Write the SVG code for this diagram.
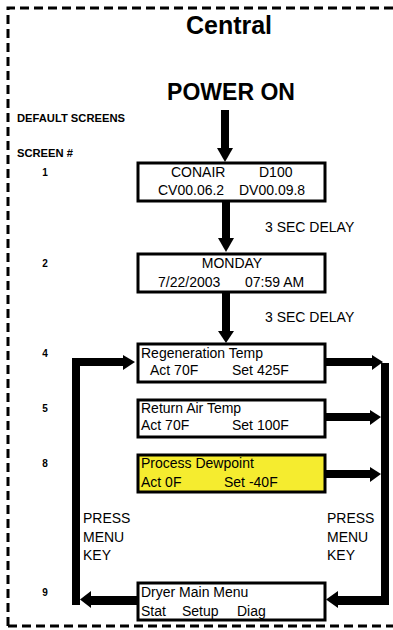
<svg xmlns="http://www.w3.org/2000/svg" width="393" height="630" viewBox="0 0 393 630">
<style>
text{font-family:"Liberation Sans",Arial,sans-serif;fill:#000}
.t{font-size:14px}
.b{font-weight:bold}
.n{font-size:10px;font-weight:bold}
.box{fill:#fff;stroke:#000;stroke-width:3}
.yel{fill:#F5EC2F}
.arr{fill:#000;stroke:none}
.frame{fill:none;stroke:#000;stroke-width:3;stroke-dasharray:9 5}
</style>
<path class="frame" d="M8,626 V8 H400 M8,626 H400"/>
<text x="229" y="34" class="b" font-size="25" text-anchor="middle">Central</text>
<text x="231" y="100" class="b" font-size="23" text-anchor="middle">POWER ON</text>
<text x="17" y="122" class="b" font-size="11.2">DEFAULT SCREENS</text>
<text x="17" y="157" class="b" font-size="11.2">SCREEN #</text>
<g id="labels">
<text x="45" y="176" class="n" text-anchor="middle">1</text>
<text x="45" y="267" class="n" text-anchor="middle">2</text>
<text x="45" y="357" class="n" text-anchor="middle">4</text>
<text x="45" y="412" class="n" text-anchor="middle">5</text>
<text x="45" y="467" class="n" text-anchor="middle">8</text>
<text x="45" y="596" class="n" text-anchor="middle">9</text>
<text x="265" y="232" class="t">3 SEC DELAY</text>
<text x="265" y="322" class="t">3 SEC DELAY</text>
<text x="83" y="523" class="t">PRESS</text>
<text x="83" y="542" class="t">MENU</text>
<text x="83" y="560" class="t">KEY</text>
<text x="327" y="523" class="t">PRESS</text>
<text x="327" y="542" class="t">MENU</text>
<text x="327" y="560" class="t">KEY</text>
</g>
<g id="connectors">
<rect class="arr" x="221" y="110" width="8" height="40"/>
<polygon class="arr" points="217,148 233,148 225,162"/>
<rect class="arr" x="222" y="201" width="8" height="38"/>
<polygon class="arr" points="218,238 234,238 226,252"/>
<rect class="arr" x="222" y="292" width="8" height="40"/>
<polygon class="arr" points="218,331 234,331 226,343"/>
<rect class="arr" x="326" y="358" width="47" height="8"/>
<polygon class="arr" points="372,355 372,370 383,362"/>
<rect class="arr" x="381" y="363" width="8" height="242"/>
<rect class="arr" x="326" y="413" width="46" height="8"/>
<polygon class="arr" points="370,410 370,425 381,417"/>
<rect class="arr" x="326" y="470" width="46" height="8"/>
<polygon class="arr" points="370,467 370,482 381,474"/>
<rect class="arr" x="337" y="596" width="52" height="9"/>
<polygon class="arr" points="338,591 338,608 326,599.5"/>
<rect class="arr" x="89" y="596" width="49" height="9"/>
<polygon class="arr" points="91,591 91,608 80,599.5"/>
<rect class="arr" x="72" y="358" width="8" height="247"/>
<rect class="arr" x="72" y="358" width="52" height="8"/>
<polygon class="arr" points="123,355 123,370 135,362"/>
</g>
<g id="screen1">
<rect class="box" x="138" y="163" width="187" height="38"/>
<text x="171" y="177" class="t">CONAIR</text>
<text x="259" y="177" class="t">D100</text>
<text x="158" y="195" class="t">CV00.06.2</text>
<text x="239" y="195" class="t">DV00.09.8</text>
</g>
<g id="screen2">
<rect class="box" x="138" y="254" width="187" height="38"/>
<text x="232" y="268" class="t" text-anchor="middle">MONDAY</text>
<text x="158" y="287" class="t">7/22/2003</text>
<text x="245" y="287" class="t">07:59 AM</text>
</g>
<g id="screen4">
<rect class="box" x="138" y="344" width="187" height="38"/>
<text x="141" y="358" class="t">Regeneration Temp</text>
<text x="150" y="375" class="t">Act 70F</text>
<text x="232" y="375" class="t">Set 425F</text>
</g>
<g id="screen5">
<rect class="box" x="138" y="400" width="187" height="37"/>
<text x="141" y="413" class="t">Return Air Temp</text>
<text x="141" y="430" class="t">Act 70F</text>
<text x="232" y="430" class="t">Set 100F</text>
</g>
<g id="screen8">
<rect class="box yel" x="138" y="455" width="187" height="37"/>
<text x="141" y="468" class="t">Process Dewpoint</text>
<text x="141" y="487" class="t">Act 0F</text>
<text x="224" y="487" class="t">Set -40F</text>
</g>
<g id="screen9">
<rect class="box" x="138" y="583" width="187" height="37"/>
<text x="141" y="597" class="t">Dryer Main Menu</text>
<text x="141" y="616" class="t">Stat</text>
<text x="182" y="616" class="t">Setup</text>
<text x="237" y="616" class="t">Diag</text>
</g>
</svg>
